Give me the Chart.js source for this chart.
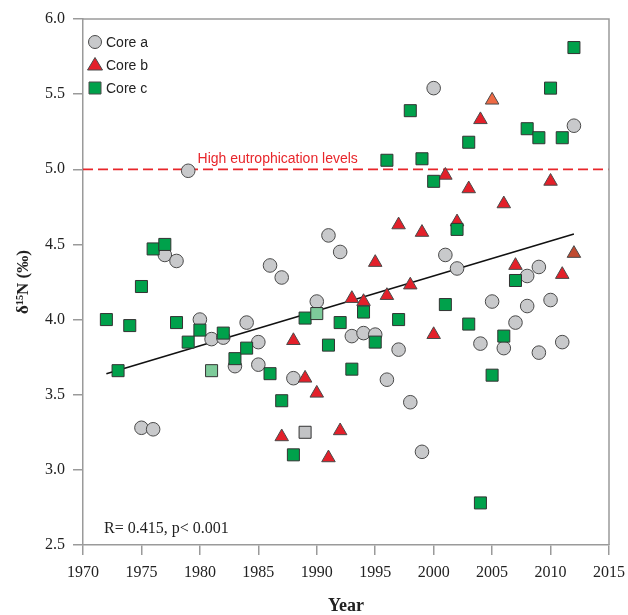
<!DOCTYPE html>
<html>
<head>
<meta charset="utf-8">
<script src="https://cdn.jsdelivr.net/npm/chart.js@4.4.1/dist/chart.umd.min.js"></script>
<style>
  html, body { margin: 0; padding: 0; background: #fff; }
  #wrap { width: 628px; height: 615px; }
</style>
</head>
<body>
<div id="wrap"><canvas id="myChart" width="628" height="615"></canvas></div>
<script>
// Core a (grey circles)
const yearsA = [1975, 1976, 1977, 1978, 1979, 1980, 1981, 1982, 1983, 1984, 1985, 1985,
  1986, 1987, 1988, 1990, 1991, 1992, 1993, 1994, 1995, 1996, 1997, 1998, 1999, 2000,
  2001, 2002, 2004, 2005, 2006, 2007, 2008, 2008, 2009, 2009, 2010, 2011, 2012];
const coreA = [3.28, 3.27, 4.43, 4.39, 4.99, 4.00, 3.87, 3.88, 3.69, 3.98, 3.85, 3.70,
  4.36, 4.28, 3.61, 4.12, 4.56, 4.45, 3.89, 3.91, 3.90, 3.60, 3.80, 3.45, 3.12, 5.54,
  4.43, 4.34, 3.84, 4.12, 3.81, 3.98, 4.29, 4.09, 4.35, 3.78, 4.13, 3.85, 5.29];

// Core b (red triangles)
const yearsB = [1987, 1988, 1989, 1990, 1991, 1992, 1993, 1994, 1995, 1996, 1997, 1998,
  1999, 2000, 2001, 2002, 2003, 2004, 2005, 2006, 2007, 2010, 2011, 2012];
const coreB = [3.22, 3.86, 3.61, 3.51, 3.08, 3.26, 4.14, 4.12, 4.38, 4.16, 4.63, 4.23,
  4.58, 3.90, 4.96, 4.65, 4.87, 5.33, 5.46, 4.77, 4.36, 4.92, 4.30, 4.44];

// Core c (green squares)
const yearsC = [1972, 1973, 1974, 1975, 1976, 1977, 1978, 1979, 1980, 1981, 1982, 1983,
  1984, 1986, 1987, 1988, 1989, 1989, 1990, 1991, 1992, 1993, 1994, 1995, 1996, 1997,
  1998, 1999, 2000, 2001, 2002, 2003, 2003, 2004, 2005, 2006, 2007, 2008, 2009, 2010,
  2011, 2012];
const coreC = [4.00, 3.66, 3.96, 4.22, 4.47, 4.50, 3.98, 3.85, 3.93, 3.66, 3.91, 3.74,
  3.81, 3.64, 3.46, 3.10, 4.01, 3.25, 4.04, 3.83, 3.98, 3.67, 4.05, 3.85, 5.06, 4.00,
  5.39, 5.07, 4.92, 4.10, 4.60, 5.18, 3.97, 2.78, 3.63, 3.89, 4.26, 5.27, 5.21, 5.54,
  5.21, 5.81];

// regression line and threshold
const trendYears = [1972, 2012];
const trendValues = [3.64, 4.57];
const thresholdYears = [1970, 2015];
const thresholdValues = [5.0, 5.0];

const xTicks = [1970, 1975, 1980, 1985, 1990, 1995, 2000, 2005, 2010, 2015];
const yTicks = [2.5, 3.0, 3.5, 4.0, 4.5, 5.0, 5.5, 6.0];

const thresholdLabel = 'High eutrophication levels';
const statsLabel = 'R= 0.415, p< 0.001';

// colours
const grey = '#C8C9CB';
const red = '#E3202A';
const green = '#00A14B';
const edge = '#4a4a4a';

// a few points are drawn in a different shade in the original figure
function shade(years, values, base, overrides) {
  return years.map((yr, i) => {
    const hit = overrides.find(o => o[0] === yr && o[1] === values[i]);
    return hit ? hit[2] : base;
  });
}
const colorsB = shade(yearsB, coreB, red, [[2005, 5.46, '#EE6A45'], [2012, 4.44, '#BF4A30']]);
const colorsC = shade(yearsC, coreC, green, [[1981, 3.66, '#7DCB9A'], [1990, 4.04, '#7DCB9A'], [1989, 3.25, '#C2C3C5']]);

const pts = (xs, ys) => xs.map((x, i) => ({ x: x, y: ys[i] }));

const serif = '"Liberation Serif", "Times New Roman", serif';
const sans = '"Liberation Sans", Arial, sans-serif';

// draws legend, threshold text and the statistics note
const overlayPlugin = {
  id: 'overlay',
  afterDatasetsDraw(chart) {
    const ctx = chart.ctx;
    const xs = chart.scales.x, ys = chart.scales.y;
    const area = chart.chartArea;
    ctx.save();

    // frame (top and right)
    ctx.strokeStyle = '#9a9a9a';
    ctx.lineWidth = 1.5;
    ctx.beginPath();
    ctx.moveTo(area.left, area.top);
    ctx.lineTo(area.right, area.top);
    ctx.lineTo(area.right, area.bottom);
    ctx.stroke();

    ctx.fillStyle = '#E8262B';
    ctx.font = '14px ' + sans;
    ctx.textBaseline = 'alphabetic';
    ctx.textAlign = 'left';
    ctx.fillText(thresholdLabel, xs.getPixelForValue(1979.8), ys.getPixelForValue(5.0) - 6);

    ctx.fillStyle = '#222';
    ctx.font = '16px ' + serif;
    ctx.textBaseline = 'middle';
    ctx.fillText(statsLabel, xs.getPixelForValue(1971.8), ys.getPixelForValue(2.61));

    // legend
    const items = [
      { text: 'Core a', shape: 'circle', fill: grey },
      { text: 'Core b', shape: 'triangle', fill: red },
      { text: 'Core c', shape: 'rect', fill: green }
    ];
    ctx.font = '14px ' + sans;
    ctx.lineWidth = 1;
    items.forEach((it, i) => {
      const cx = area.left + 12;
      const cy = area.top + 23 + i * 23;
      ctx.fillStyle = it.fill;
      ctx.strokeStyle = edge;
      ctx.beginPath();
      if (it.shape === 'circle') {
        ctx.arc(cx, cy, 6.5, 0, Math.PI * 2);
      } else if (it.shape === 'triangle') {
        ctx.moveTo(cx, cy - 7.5);
        ctx.lineTo(cx + 7.5, cy + 5);
        ctx.lineTo(cx - 7.5, cy + 5);
        ctx.closePath();
      } else {
        ctx.rect(cx - 6, cy - 6, 12, 12);
      }
      ctx.fill();
      ctx.stroke();
      ctx.fillStyle = '#222';
      ctx.textBaseline = 'middle';
      ctx.fillText(it.text, area.left + 23, cy + 1);
    });
    ctx.restore();
  }
};

const ctx = document.getElementById('myChart').getContext('2d');
const myChart = new Chart(ctx, {
  type: 'scatter',
  data: {
    datasets: [
      {
        label: 'Core a',
        data: pts(yearsA, coreA),
        pointStyle: 'circle',
        pointRadius: 6.8,
        pointHoverRadius: 6.8,
        backgroundColor: grey,
        borderColor: edge,
        borderWidth: 1,
        order: 3
      },
      {
        label: 'Core b',
        data: pts(yearsB, coreB),
        pointStyle: 'triangle',
        pointRadius: 7.8,
        pointHoverRadius: 7.8,
        backgroundColor: colorsB,
        borderColor: edge,
        borderWidth: 1,
        order: 2
      },
      {
        label: 'Core c',
        data: pts(yearsC, coreC),
        pointStyle: 'rect',
        pointRadius: 8.5,
        pointHoverRadius: 8.5,
        backgroundColor: colorsC,
        borderColor: '#333',
        borderWidth: 1,
        order: 1
      },
      {
        type: 'line',
        label: 'trend',
        data: pts(trendYears, trendValues),
        borderColor: '#111',
        borderWidth: 1.6,
        pointRadius: 0,
        fill: false,
        order: 10
      },
      {
        type: 'line',
        label: 'threshold',
        data: pts(thresholdYears, thresholdValues),
        borderColor: '#E8262B',
        borderWidth: 1.8,
        borderDash: [10, 5],
        pointRadius: 0,
        fill: false,
        order: 11
      }
    ]
  },
  options: {
    responsive: false,
    animation: false,
    layout: { padding: { top: 19, right: 19, left: 0, bottom: 0 } },
    plugins: {
      legend: { display: false },
      tooltip: { enabled: false }
    },
    scales: {
      x: {
        type: 'linear',
        min: 1970,
        max: 2015,
        afterFit: (s) => { s.height = 70; s.paddingLeft = 0; s.paddingRight = 0; },
        afterBuildTicks: (s) => { s.ticks = xTicks.map(v => ({ value: v })); },
        ticks: {
          color: '#222',
          font: { family: serif, size: 16 },
          padding: 8,
          callback: (v) => String(v)
        },
        grid: { drawOnChartArea: false, drawTicks: true, tickLength: 10, color: '#9a9a9a', lineWidth: 1.5 },
        border: { display: true, color: '#9a9a9a', width: 1.5 },
        title: {
          display: true,
          text: 'Year',
          color: '#222',
          font: { family: serif, size: 18, weight: 'bold', lineHeight: 1 },
          padding: { top: 0, bottom: 0 }
        }
      },
      y: {
        min: 2.5,
        max: 6.0,
        afterFit: (s) => { s.width = 83; s.paddingTop = 0; s.paddingBottom = 0; },
        afterBuildTicks: (s) => { s.ticks = yTicks.map(v => ({ value: v })); },
        ticks: {
          color: '#222',
          font: { family: serif, size: 16 },
          padding: 8,
          callback: (v) => Number(v).toFixed(1)
        },
        grid: { drawOnChartArea: false, drawTicks: true, tickLength: 10, color: '#9a9a9a', lineWidth: 1.5 },
        border: { display: true, color: '#9a9a9a', width: 1.5 },
        title: {
          display: true,
          text: 'δ¹⁵N (‰)',
          color: '#222',
          font: { family: serif, size: 17, weight: 'bold', lineHeight: 1 },
          padding: { top: 15, bottom: 0 }
        }
      }
    }
  },
  plugins: [overlayPlugin]
});
</script>
</body>
</html>
